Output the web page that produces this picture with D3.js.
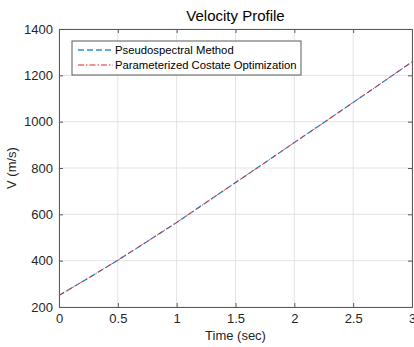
<!DOCTYPE html>
<html>
<head>
<meta charset="utf-8">
<script src="https://cdn.jsdelivr.net/npm/d3@7"></script>
<style>
  body { margin: 0; background: #fff; }
  svg { display: block; font-family: "Liberation Sans", Arial, sans-serif; }
</style>
</head>
<body>
<svg id="chart" width="414" height="347"></svg>
<script>
const timeSec = [0, 0.25, 0.5, 0.75, 1, 1.25, 1.5, 1.75, 2, 2.25, 2.5, 2.75, 3];
const pseudoV = [250, 325, 402, 483, 565, 651, 737, 823, 910, 996, 1083, 1170, 1258];
const costateV = [250, 325, 402, 483, 565, 651, 737, 823, 910, 996, 1083, 1170, 1258];
const xTicks = [0, 0.5, 1, 1.5, 2, 2.5, 3];
const yTicks = [200, 400, 600, 800, 1000, 1200, 1400];

const svg = d3.select('#chart');
const m = { left: 59, right: 412, top: 29, bottom: 307 };

const x = d3.scaleLinear().domain([0, 3]).range([m.left, m.right]);
const y = d3.scaleLinear().domain([200, 1400]).range([m.bottom, m.top]);

// grid
const grid = svg.append('g').attr('stroke', '#e3e3e3').attr('stroke-width', 1);
grid.selectAll('.gx').data(xTicks).join('line')
  .attr('x1', (d) => x(d)).attr('x2', (d) => x(d))
  .attr('y1', m.top).attr('y2', m.bottom);
grid.selectAll('.gy').data(yTicks).join('line')
  .attr('x1', m.left).attr('x2', m.right)
  .attr('y1', (d) => y(d)).attr('y2', (d) => y(d));

// axes (ticks inward)
const axisColor = '#5a5a5a';
const axBottom = svg.append('g').attr('transform', `translate(0,${m.bottom})`)
  .call(d3.axisBottom(x).tickValues(xTicks).tickSize(-4).tickPadding(7).tickFormat(d3.format('')));
const axTop = svg.append('g').attr('transform', `translate(0,${m.top})`)
  .call(d3.axisTop(x).tickValues(xTicks).tickSize(-4).tickFormat(''));
const axLeft = svg.append('g').attr('transform', `translate(${m.left},0)`)
  .call(d3.axisLeft(y).tickValues(yTicks).tickSize(-4).tickPadding(6).tickFormat(d3.format('d')));
const axRight = svg.append('g').attr('transform', `translate(${m.right},0)`)
  .call(d3.axisRight(y).tickValues(yTicks).tickSize(-4).tickFormat(''));

[axBottom, axTop, axLeft, axRight].forEach((g) => {
  g.selectAll('path').attr('stroke', axisColor);
  g.selectAll('line').attr('stroke', axisColor);
  g.selectAll('text').attr('fill', '#262626').style('font-size', '13px');
});

// lines
const line = (vals) => d3.line().x((d, i) => x(timeSec[i])).y((d) => y(d))(vals);
svg.append('path').attr('d', line(pseudoV)).attr('fill', 'none')
  .attr('stroke', '#2b8ed6').attr('stroke-width', 1.3).attr('stroke-dasharray', '6,3');
svg.append('path').attr('d', line(costateV)).attr('fill', 'none')
  .attr('stroke', '#e0262b').attr('stroke-width', 1).attr('stroke-dasharray', '6,2,1.5,2').attr('opacity', 0.85);

// title and labels
svg.append('text').attr('x', (m.left + m.right) / 2).attr('y', 21).attr('text-anchor', 'middle')
  .style('font-size', '15px').attr('fill', '#000').text('Velocity Profile');
svg.append('text').attr('x', (m.left + m.right) / 2).attr('y', 340).attr('text-anchor', 'middle')
  .style('font-size', '13px').attr('fill', '#262626').text('Time (sec)');
svg.append('text').attr('transform', `translate(16,${(m.top + m.bottom) / 2}) rotate(-90)`)
  .attr('text-anchor', 'middle').style('font-size', '13px').attr('fill', '#262626').text('V (m/s)');

// legend
const legend = svg.append('g');
legend.append('rect').attr('x', 72).attr('y', 41).attr('width', 229).attr('height', 34)
  .attr('fill', '#fff').attr('stroke', '#5a5a5a').attr('stroke-width', 1);
const legendItems = [
  { label: 'Pseudospectral Method', color: '#2b8ed6', dash: '6,3', w: 1.3 },
  { label: 'Parameterized Costate Optimization', color: '#e0262b', dash: '6,2,1.5,2', w: 1 },
];
legendItems.forEach((d, i) => {
  const yy = 50 + i * 15;
  legend.append('line').attr('x1', 78).attr('x2', 113).attr('y1', yy).attr('y2', yy)
    .attr('stroke', d.color).attr('stroke-width', d.w).attr('stroke-dasharray', d.dash);
  legend.append('text').attr('x', 115).attr('y', yy + 4).style('font-size', '11.3px')
    .attr('fill', '#000').text(d.label);
});
</script>
</body>
</html>
